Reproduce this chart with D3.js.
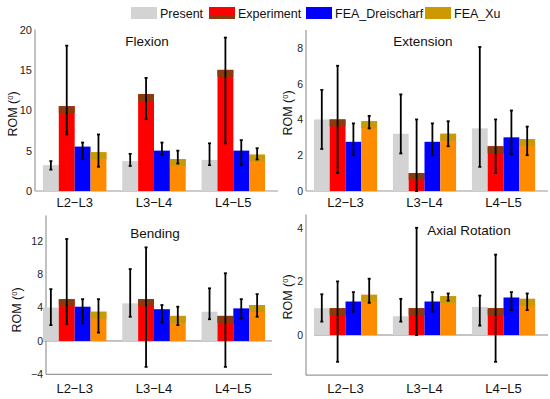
<!DOCTYPE html>
<html>
<head>
<meta charset="utf-8">
<script src="https://cdn.jsdelivr.net/npm/d3@7"></script>
<style>
  body { margin: 0; background: #fff; }
  svg { font-family: "Liberation Sans", Arial, sans-serif; display: block; }
</style>
</head>
<body>
<svg width="550" height="399"></svg>
<script>
var categories = ["L2\u2212L3", "L3\u2212L4", "L4\u2212L5"];
var series = ["Present", "Experiment", "FEA_Dreischarf", "FEA_Xu"];

// mean, lower and upper error per category (rows) and series (columns)
var flexionMean = [[3.2, 10.5, 5.5, 4.8], [3.7, 12, 5, 3.95], [3.85, 15, 5, 4.5]];
var flexionLow  = [[2.65, 7, 3.95, 3], [3.1, 8.9, 4.5, 3.4], [3.2, 5.9, 3.2, 3.9]];
var flexionHigh = [[3.7, 18, 6, 7], [4.6, 14, 6, 5], [5.9, 19, 6.3, 5.3]];

var extensionMean = [[4, 4, 2.75, 3.9], [3.2, 1, 2.75, 3.2], [3.5, 2.5, 3, 2.9]];
var extensionLow  = [[2.35, 1, 2.0, 3.5], [2.1, 0, 2.0, 2.5], [1.35, 1, 2.05, 2]];
var extensionHigh = [[5.65, 7, 3.78, 4.2], [5.4, 4, 3.78, 3.9], [8.05, 4, 4.5, 3.6]];

var bendingMean = [[4, 5, 4.1, 3.5], [4.5, 5, 3.8, 3], [3.5, 3, 3.9, 4.3]];
var bendingLow  = [[1.9, 2, 2.1, 1], [2.9, -3.1, 2.2, 1.9], [2.6, -3.1, 2.7, 2.9]];
var bendingHigh = [[6.2, 12.2, 5, 5], [8.6, 11.2, 4.3, 4.1], [6.3, 8.1, 5, 5.6]];

var axialMean = [[1, 1, 1.25, 1.5], [0.7, 1, 1.25, 1.45], [1.05, 1, 1.4, 1.35]];
var axialLow  = [[0.5, -1, 0.87, 1.2], [0.5, 0, 0.87, 1.28], [0.35, -1, 0.93, 0.93]];
var axialHigh = [[1.52, 2, 1.6, 2.1], [1.35, 4, 1.6, 1.55], [1.47, 3, 1.6, 1.55]];

var flexionTicks = [0, 5, 10, 15, 20];
var extensionTicks = [0, 2, 4, 6, 8];
var bendingTicks = [-4, 0, 4, 8, 12];
var axialTicks = [0, 2, 4];

var colors = ["#d3d3d3", "#ff0000", "#0000ff", "#ff8c00"];
var topColors = [null, "#8a3a0c", null, "#c89a0a"];

var svg = d3.select("svg");

var panels = [
  {title: "Flexion", mean: flexionMean, low: flexionLow, high: flexionHigh, ticks: flexionTicks,
   domain: [0, 20], yr: [191, 29.5], ax: 35, xr: [35, 273], xEnd: 278, tx: 147, ty: 46,
   labY: 207, ylx: 17, yly: 114, fs: 11},
  {title: "Extension", mean: extensionMean, low: extensionLow, high: extensionHigh, ticks: extensionTicks,
   domain: [0, 9], yr: [191, 30], ax: 306, xr: [306, 543], xEnd: 548, tx: 423, ty: 46,
   labY: 207, ylx: 292, yly: 113, fs: 10.5},
  {title: "Bending", mean: bendingMean, low: bendingLow, high: bendingHigh, ticks: bendingTicks,
   domain: [-4, 15], yr: [374.4, 215.6], ax: 46, xr: [35, 273], xEnd: 272, tx: 155, ty: 238,
   labY: 393, ylx: 21, yly: 310, fs: 10.5, zero: true},
  {title: "Axial Rotation", mean: axialMean, low: axialLow, high: axialHigh, ticks: axialTicks,
   domain: [-1.5, 4.5], yr: [375.2, 214.4], ax: 306, xr: [306, 543], xEnd: 548, tx: 469, ty: 235,
   labY: 393, ylx: 292, yly: 297, fs: 10.5, zero: true}
];

panels.forEach(function(p) {
  var g = svg.append("g");
  var x0 = d3.scaleBand().domain(categories).range(p.xr).paddingInner(0.2).paddingOuter(0.1);
  var x1 = d3.scaleBand().domain(series).range([0, x0.bandwidth()]);
  var y = d3.scaleLinear().domain(p.domain).range(p.yr);

  // axis lines
  g.append("line").attr("x1", p.ax).attr("x2", p.ax)
    .attr("y1", y(p.domain[1])).attr("y2", y(p.domain[0]))
    .attr("stroke", "#999").attr("stroke-width", 1.2);
  g.append("line").attr("x1", p.ax).attr("x2", p.xEnd)
    .attr("y1", y(p.domain[0])).attr("y2", y(p.domain[0]))
    .attr("stroke", "#999").attr("stroke-width", 1.2);

  var yAxis = d3.axisLeft(y).tickValues(p.ticks).tickFormat(d3.format("d")).tickSize(0).tickPadding(3);
  var ya = g.append("g").attr("transform", "translate(" + p.ax + ",0)").call(yAxis);
  ya.select(".domain").remove();
  ya.selectAll("text").style("font-size", p.fs + "px").attr("fill", "#222");

  if (p.zero) {
    g.append("line").attr("x1", p.xr[0] + 8).attr("x2", p.xEnd)
      .attr("y1", y(0)).attr("y2", y(0))
      .attr("stroke", "#888").attr("stroke-width", 1);
  }

  categories.forEach(function(cat, ci) {
    var grp = g.append("g").attr("transform", "translate(" + x0(cat) + ",0)");
    series.forEach(function(s, si) {
      var v = p.mean[ci][si];
      var top = y(Math.max(v, 0)), bot = y(Math.min(v, 0));
      grp.append("rect").attr("x", x1(s)).attr("width", x1.bandwidth())
        .attr("y", top).attr("height", bot - top).attr("fill", colors[si]);
      if (topColors[si]) {
        grp.append("rect").attr("x", x1(s)).attr("width", x1.bandwidth())
          .attr("y", top).attr("height", Math.min(7, (bot - top) / 2))
          .attr("fill", topColors[si]);
      }
    });
    series.forEach(function(s, si) {
      var cx = x1(s) + x1.bandwidth() / 2;
      var lo = y(p.low[ci][si]), hi = y(p.high[ci][si]);
      grp.append("line").attr("x1", cx).attr("x2", cx).attr("y1", lo).attr("y2", hi)
        .attr("stroke", "#000").attr("stroke-width", 1.8);
      [lo, hi].forEach(function(yy) {
        grp.append("line").attr("x1", cx - 1.5).attr("x2", cx + 1.5).attr("y1", yy).attr("y2", yy)
          .attr("stroke", "#000").attr("stroke-width", 1.8);
      });
    });
    g.append("text").attr("x", x0(cat) + x0.bandwidth() / 2).attr("y", p.labY)
      .attr("text-anchor", "middle").style("font-size", "13px").attr("fill", "#111").text(cat);
  });

  g.append("text").attr("x", p.tx).attr("y", p.ty).attr("text-anchor", "middle")
    .style("font-size", "13.5px").attr("fill", "#111").text(p.title);

  var yl = g.append("text").attr("transform", "translate(" + p.ylx + "," + p.yly + ") rotate(-90)")
    .attr("text-anchor", "middle").style("font-size", "12.5px").attr("fill", "#111");
  yl.append("tspan").text("ROM (");
  yl.append("tspan").attr("dy", "-4").style("font-size", "7.5px").text("0");
  yl.append("tspan").attr("dy", "4").text(")");
});

// legend
var legendX = [131, 209, 306, 425];
var leg = svg.append("g");
series.forEach(function(s, i) {
  leg.append("rect").attr("x", legendX[i]).attr("y", 7).attr("width", 26).attr("height", 12)
    .attr("fill", i === 3 ? "#cc9900" : colors[i]);
  if (i === 1) {
    leg.append("rect").attr("x", legendX[i]).attr("y", 15).attr("width", 26).attr("height", 4)
      .attr("fill", topColors[1]);
  }
  leg.append("text").attr("x", legendX[i] + 29).attr("y", 17.5)
    .style("font-size", "12.5px").attr("fill", "#111").text(s);
});
</script>
</body>
</html>
